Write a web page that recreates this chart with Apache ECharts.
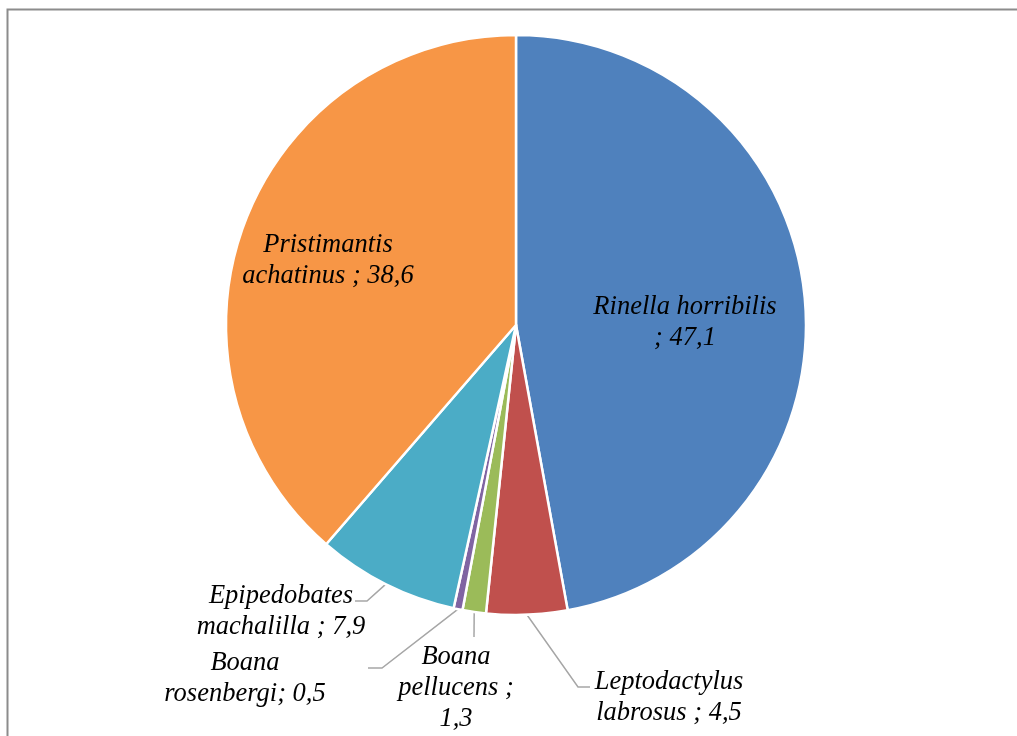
<!DOCTYPE html>
<html><head><meta charset="utf-8">
<script src="https://cdn.jsdelivr.net/npm/echarts@6/dist/echarts.min.js"></script>
<style>html,body{margin:0;padding:0;background:#fff}#c{width:1017px;height:736px}</style>
</head><body><div id="c"></div>
<script>
// Data
const species = ['Rinella horribilis', 'Leptodactylus labrosus', 'Boana pellucens', 'Boana rosenbergi', 'Epipedobates machalilla', 'Pristimantis achatinus'];
const values = [47.1, 4.5, 1.3, 0.5, 7.9, 38.6];
const labelPrefix = ['Rinella horribilis\n; ', 'Leptodactylus\nlabrosus ; ', 'Boana\npellucens ;\n', 'Boana\nrosenbergi; ', 'Epipedobates\nmachalilla ; ', 'Pristimantis\nachatinus ; '];
const colors = ['#4F81BD', '#C0504D', '#9BBB59', '#8064A2', '#4BACC6', '#F79646'];

// Label placement (styling, not data)
const labelPos = [[685, 323], [669, 698], [456, 688], [245, 679], [281, 612], [328, 261]];
const guideTail = [null, [[578, 687], [590, 687]], [[474, 637]], [[382, 668], [368, 668]], [[367, 601], [355, 601]], null];
const insideIdx = [0, 5];

const chart = echarts.init(document.getElementById('c'), null, {renderer: 'canvas'});
const data = species.map((n, i) => ({
  name: n, value: values[i],
  itemStyle: {color: colors[i]},
  label: {position: insideIdx.includes(i) ? 'inside' : 'outside'},
  labelLine: {show: !insideIdx.includes(i)}
}));
chart.setOption({
  animation: false,
  graphic: [{type: 'rect', shape: {x: 7.5, y: 9.5, width: 1100, height: 800}, style: {fill: 'none', stroke: '#8c8c8c', lineWidth: 2}, silent: true}],
  series: [{
    type: 'pie',
    center: [516, 325],
    radius: 290,
    startAngle: 90,
    clockwise: true,
    avoidLabelOverlap: false,
    data: data,
    itemStyle: {borderColor: '#fff', borderWidth: 2.5},
    label: {
      show: true,
      fontFamily: 'Liberation Serif',
      fontStyle: 'italic',
      fontSize: 26.5,
      lineHeight: 31,
      color: '#000',
      align: 'center',
      overflow: 'none',
      alignTo: 'none',
      formatter: p => labelPrefix[p.dataIndex] + values[p.dataIndex].toFixed(1).replace('.', ',')
    },
    labelLine: {show: true, length: 15, length2: 10, smooth: false, lineStyle: {color: '#a6a6a6', width: 1.5}},
    labelLayout: p => {
      const i = p.dataIndex;
      const o = {x: labelPos[i][0], y: labelPos[i][1], align: 'center', verticalAlign: 'middle'};
      if (guideTail[i] && p.labelLinePoints && p.labelLinePoints.length) {
        o.labelLinePoints = [p.labelLinePoints[0].slice()].concat(guideTail[i]);
      }
      return o;
    },
    emphasis: {disabled: true}
  }]
});
</script></body></html>
